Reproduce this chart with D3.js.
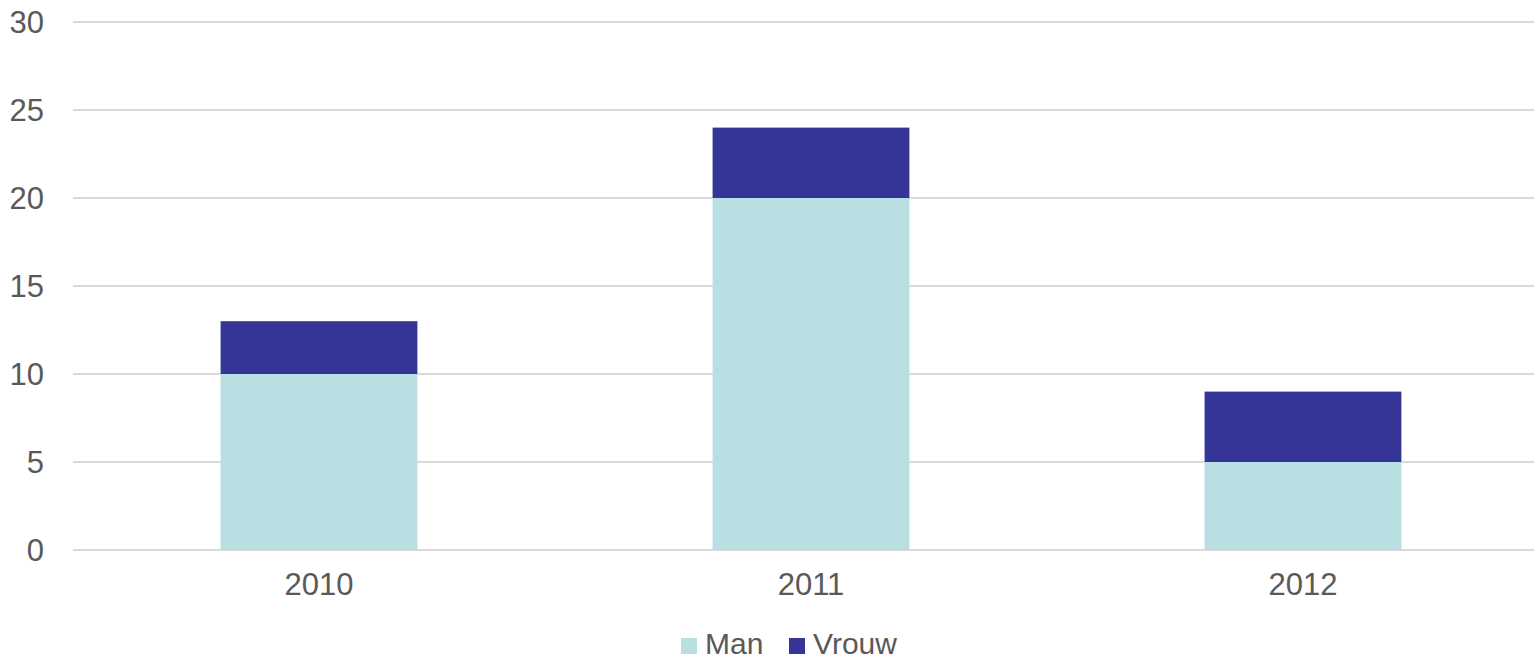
<!DOCTYPE html>
<html>
<head>
<meta charset="utf-8">
<script src="https://cdn.jsdelivr.net/npm/d3@7"></script>
<style>
	body { margin: 0; background: #fff; }
	svg { display: block; font-family: "Liberation Sans", Arial, sans-serif; }
	.tick text { fill: #595959; font-size: 31px; }
	.legend text { fill: #595959; font-size: 30px; }
</style>
</head>
<body>
<svg width="1534" height="661"></svg>
<script>
const years = ["2010", "2011", "2012"];
const seriesNames = ["Man", "Vrouw"];
const man = [10, 20, 5];
const vrouw = [3, 4, 4];
const yTicks = [0, 5, 10, 15, 20, 25, 30];
const colors = ["#badfe2", "#353597"];

document.addEventListener("DOMContentLoaded", function() {
	const rows = years.map((y, i) => ({ year: y, Man: man[i], Vrouw: vrouw[i] }));
	renderChart(rows);
});

function renderChart(rows) {
	const svg = d3.select("svg");
	const left = 73, right = 1549, top = 22, bottom = 550;

	const xScale = d3.scaleBand()
					 .domain(years)
					 .range([left, right])
					 .paddingInner(0.6)
					 .paddingOuter(0.3);
	const yScale = d3.scaleLinear()
					 .domain([0, 30])
					 .range([bottom, top]);

	// gridlines
	svg.append("g")
	   .selectAll("line")
	   .data(yTicks)
	   .enter()
	   .append("line")
	   .attr("x1", left)
	   .attr("x2", right)
	   .attr("y1", d => yScale(d))
	   .attr("y2", d => yScale(d))
	   .attr("stroke", "#d9d9d9")
	   .attr("stroke-width", 2);

	const stacked = d3.stack().keys(seriesNames)(rows);

	svg.append("g")
	   .selectAll("g")
	   .data(stacked)
	   .enter()
	   .append("g")
	   .attr("fill", (d, i) => colors[i])
	   .selectAll("rect")
	   .data(d => d)
	   .enter()
	   .append("rect")
	   .attr("x", d => xScale(d.data.year))
	   .attr("y", d => yScale(d[1]))
	   .attr("width", xScale.bandwidth())
	   .attr("height", d => yScale(d[0]) - yScale(d[1]));

	const yAxis = d3.axisLeft(yScale).tickValues(yTicks).tickSize(0).tickPadding(29);
	svg.append("g")
	   .attr("transform", `translate(${left}, 0)`)
	   .call(yAxis)
	   .call(g => g.select(".domain").remove())
	   .selectAll("text")
	   .attr("dy", "0.35em");

	const xAxis = d3.axisBottom(xScale).tickSize(0).tickPadding(23);
	svg.append("g")
	   .attr("transform", `translate(0, ${bottom})`)
	   .call(xAxis)
	   .call(g => g.select(".domain").remove());

	// legend
	const legend = svg.append("g").attr("class", "legend");
	const legendX = [681, 789];
	seriesNames.forEach((name, i) => {
		legend.append("rect")
			  .attr("x", legendX[i])
			  .attr("y", 638)
			  .attr("width", 16)
			  .attr("height", 16)
			  .attr("fill", colors[i]);
		legend.append("text")
			  .attr("x", legendX[i] + 24)
			  .attr("y", 654)
			  .text(name);
	});
}
</script>
</body>
</html>
